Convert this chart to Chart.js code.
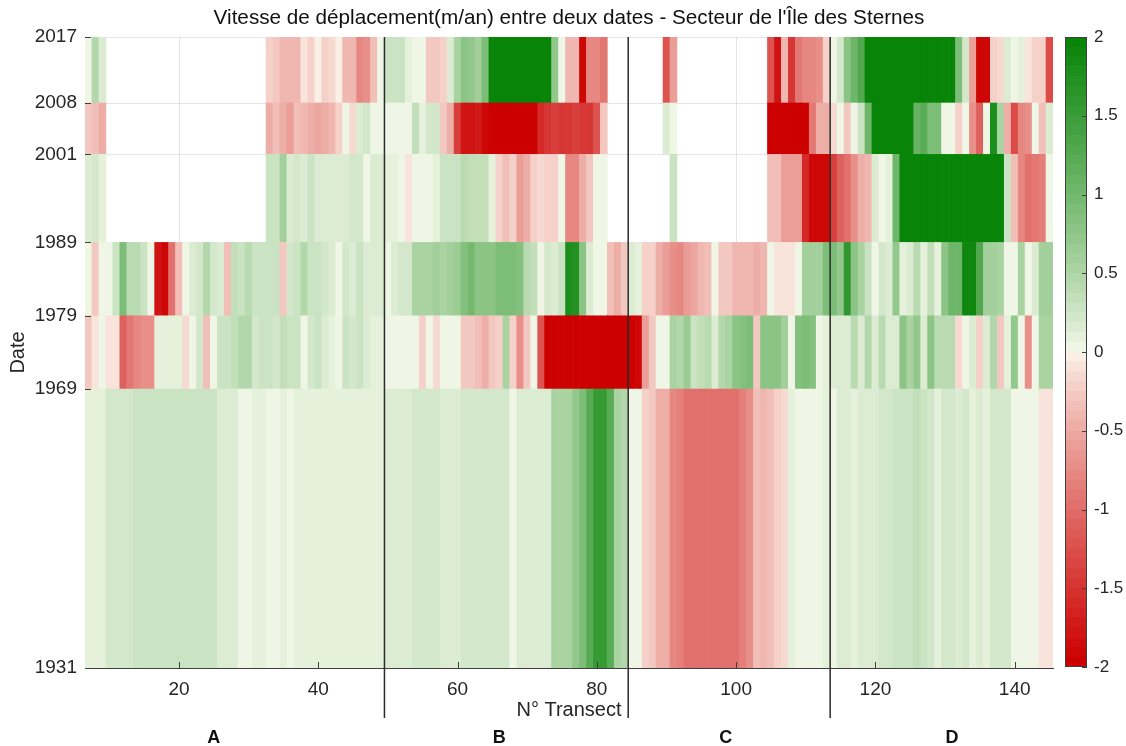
<!DOCTYPE html>
<html>
<head>
<meta charset="utf-8">
<script src="https://cdn.jsdelivr.net/npm/chart.js@4.4.1/dist/chart.umd.min.js"></script>
<style>
  html, body { margin: 0; padding: 0; background: #fff; }
  #wrap { position: relative; width: 1126px; height: 746px; }
  #main { position: absolute; left: 0; top: 0; }
  #cbar { position: absolute; left: 1053px; top: 0; }
</style>
</head>
<body>
<div id="wrap">
  <canvas id="main" width="1126" height="746"></canvas>
  <canvas id="cbar" width="73" height="746"></canvas>
</div>
<script>
// Transects 7 a 145, une valeur par transect (null = pas de donnee)
const firstTransect = 7;
const dateBreaks = [1931, 1969, 1979, 1989, 2001, 2008, 2017];
const xTicks = [20, 40, 60, 80, 100, 120, 140];
const cbTicks = [-2, -1.5, -1, -0.5, 0, 0.5, 1, 1.5, 2];
const sectorNames = ['A', 'B', 'C', 'D'];
const sectorBounds = [49.5, 84.5, 113.5];
const sectorLabelAt = [25, 66, 98.5, 131];
const titleText = "Vitesse de déplacement(m/an) entre deux dates - Secteur de l'Île des Sternes";

// vitesse (m/an) par periode
const v2008_2017 = [
  0.05, 0.45, 0.15, null, null, null, null, null, null, null,
  null, null, null, null, null, null, null, null, null, null,
  null, null, null, null, null, null, -0.2, -0.3, -0.4, -0.4,
  -0.4, -0.1, -0.2, -0.05, -0.25, -0.15, -0.05, -0.4, -0.4, -0.8,
  -0.75, -0.35, 0.02, 0.25, 0.3, 0.3, 0.1, 0.05, 0.02, -0.3,
  -0.3, -0.2, 0.15, 0.5, 0.8, 0.7, 0.6, 0.9, 2, 2,
  2, 2, 2, 2, 2, 2, 2, 0.7, 0.05, -0.4,
  -0.4, -1.9, -0.8, -0.8, -0.9, null, null, null, null, null,
  null, null, null, -1.2, -0.6, null, null, null, null, null,
  null, null, null, null, null, null, null, null, -1.2, -1.8,
  -0.4, -1.5, -0.9, -0.8, -0.8, -0.7, -0.2, 0.05, 0.2, 0.8,
  1.0, 1.3, 2, 2, 2, 2, 2, 2, 2, 2,
  2, 2, 2, 2, 2, 0.9, 0.2, -0.6, -1.9, -1.9,
  -0.25, -0.15, 0.15, 0.02, 0.1, -0.1, -0.2, -0.2, -1.3
];
const v2001_2008 = [
  -0.3, -0.35, -0.5, null, null, null, null, null, null, null,
  null, null, null, null, null, null, null, null, null, null,
  null, null, null, null, null, null, -0.5, -0.35, -0.45, -0.6,
  -0.35, -0.4, -0.5, -0.55, -0.45, -0.4, -0.2, 0.02, -0.15, 0.15,
  0.2, 0.03, 0.03, 0.02, 0.02, 0.05, 0.05, 0.35, 0.1, 0.2,
  0.2, -0.3, -0.5, -1.4, -1.8, -1.8, -1.7, -1.9, -2, -2,
  -2, -2, -2, -2, -2, -1.6, -1.5, -1.4, -1.5, -1.5,
  -1.4, -1.5, -1.5, -1.2, -0.3, null, null, null, null, null,
  null, null, null, 0.15, 0.03, null, null, null, null, null,
  null, null, null, null, null, null, null, null, -2, -2,
  -2, -2, -2, -2, -0.9, -0.5, -0.45, -0.15, 0.03, -0.3,
  0.02, 0.3, 1.0, 2, 2, 2, 2, 2, 2, 1.1,
  1.2, 0.9, 0.9, 0.05, 0.02, -0.2, 0.03, -0.7, -1.1, 0.02,
  1.8, 0.5, -0.5, -1.3, -0.8, -0.7, 0.02, -0.35, 0.15
];
const v1989_2001 = [
  0.15, 0.2, 0.1, null, null, null, null, null, null, null,
  null, null, null, null, null, null, null, null, null, null,
  null, null, null, null, null, null, 0.3, 0.3, 0.6, 0.15,
  0.2, 0.15, 0.25, 0.15, 0.18, 0.15, 0.15, 0.15, 0.2, 0.2,
  0.03, 0.15, 0.15, 0.1, 0.1, 0.05, -0.1, 0.02, 0.05, 0.05,
  0.1, 0.25, 0.25, 0.3, 0.4, 0.35, 0.35, 0.35, 0.1, -0.2,
  -0.35, -0.2, -0.6, -0.5, -0.2, -0.15, -0.25, -0.2, 0.02, -0.8,
  -0.8, -0.5, -0.3, 0.02, 0.05, null, null, null, null, null,
  null, null, null, null, 0.3, null, null, null, null, null,
  null, null, null, null, null, null, null, null, -0.35, -0.35,
  -0.6, -0.6, -0.6, -1.6, -1.9, -1.9, -1.9, -1.4, -1.1, -1.0,
  -0.7, -0.5, -0.4, 0.15, 0.02, 0.1, 1.0, 2, 2, 2,
  2, 2, 2, 2, 2, 2, 2, 2, 2, 2,
  2, 2, 0.3, -0.35, -0.8, -1.0, -0.9, -0.85, 0.02
];
const v1979_1989 = [
  0.02, -0.3, 0.05, 0.05, 0.3, 0.9, 0.4, 0.4, 0.3, 0.05,
  -1.8, -1.9, -1.0, -0.35, 0.05, 0.15, 0.2, 0.45, 0.2, 0.15,
  -0.35, 0.35, 0.3, 0.4, 0.3, 0.25, 0.3, 0.25, -0.3, 0.2,
  0.25, 0.45, 0.3, 0.3, 0.2, 0.15, 0.03, 0.2, 0.15, 0.25,
  0.15, 0.15, 0.15, 0.05, 0.15, 0.2, 0.2, 0.55, 0.55, 0.5,
  0.6, 0.55, 0.6, 0.65, 0.85, 0.95, 0.8, 0.8, 0.8, 0.9,
  0.9, 0.9, 0.85, 0.4, 0.35, 0.05, 0.2, 0.15, 0.3, 1.8,
  1.7, 0.8, 0.15, 0.03, 0.05, -0.35, -0.5, -0.3, 0.15, 0.1,
  -0.25, -0.25, -0.5, -0.6, -0.7, -0.8, -0.6, -0.55, -0.4, -0.35,
  0.02, -0.3, -0.3, -0.4, -0.4, -0.4, -0.45, -0.4, 0.02, -0.1,
  -0.1, -0.1, 0.02, 0.6, 0.6, 0.6, 0.9, 0.9, 0.7, 1.6,
  0.8, 0.5, 0.25, 0.03, 0.2, 0.15, 0.7, 0.1, 0.15, 0.4,
  0.1, 0.35, 0.1, 0.8, 1.0, 1.0, 1.9, 1.9, 1.3, 0.6,
  0.6, 0.55, 0.03, 0.05, 0.5, 0.03, 0.15, 0.6, 0.6
];
const v1969_1979 = [
  -0.3, -0.1, 0.03, -0.1, -0.1, -1.1, -0.9, -0.8, -0.75, -0.75,
  0.1, 0.1, 0.1, 0.12, -0.15, 0.05, 0.2, -0.35, 0.02, 0.3,
  0.3, 0.35, 0.45, 0.45, 0.2, 0.25, 0.3, 0.2, 0.35, 0.3,
  0.25, 0.05, 0.2, 0.25, 0.15, 0.1, 0.03, 0.25, 0.2, 0.25,
  0.15, 0.1, 0.1, 0.02, 0.02, 0.03, 0.03, 0.02, -0.2, 0.02,
  -0.15, 0.03, 0.02, 0.02, -0.3, -0.3, -0.35, -0.45, -0.3, -0.2,
  0.5, -0.2, -0.7, -0.3, 0.02, -1.2, -2, -2, -2, -2,
  -2, -2, -2, -2, -2, -2, -2, -2, -2, -1.9,
  -0.6, -0.3, 0.03, 0.03, 0.5, 0.45, 0.65, 0.3, 0.35, 0.4,
  0.15, 0.45, 0.5, 0.8, 0.85, 0.9, -0.3, 0.8, 0.75, 0.8,
  0.6, 0.05, 0.85, 0.9, 0.85, 0.05, 0.1, 0.15, 0.15, 0.15,
  0.4, 0.15, 0.45, 0.15, 0.4, 0.15, 0.15, 0.8, 0.55, 0.7,
  0.15, 0.8, 0.4, 0.4, 0.4, -0.15, 0.03, 0.15, -0.25, 0.15,
  0.45, -0.3, 0.1, 0.7, 0.02, -0.7, 0.02, 0.5, 0.5
];
const v1931_1969 = [
  0.1, 0.12, 0.12, 0.2, 0.2, 0.2, 0.2, 0.25, 0.25, 0.25,
  0.25, 0.25, 0.3, 0.3, 0.3, 0.28, 0.3, 0.25, 0.25, 0.15,
  0.15, 0.15, 0.03, 0.03, 0.1, 0.1, 0.02, 0.02, 0.1, 0.02,
  0.12, 0.12, 0.12, 0.12, 0.12, 0.12, 0.12, 0.12, 0.12, 0.12,
  0.12, 0.12, 0.12, 0.15, 0.15, 0.15, 0.15, 0.2, 0.2, 0.2,
  0.2, 0.15, 0.15, 0.15, 0.2, 0.2, 0.2, 0.2, 0.2, 0.2,
  0.2, 0.03, 0.15, 0.15, 0.15, 0.15, 0.15, 0.5, 0.5, 0.5,
  0.7, 0.9, 1.2, 1.5, 1.5, 1.2, 0.5, 0.45, 0.02, 0.03,
  -0.2, -0.3, -0.45, -0.45, -0.8, -0.85, -0.95, -0.95, -0.95, -0.95,
  -0.95, -0.95, -0.95, -0.95, -0.85, -0.75, -0.35, -0.4, -0.35, -0.25,
  -0.15, 0.1, 0.02, 0.02, 0.02, 0.03, 0.1, 0.05, 0.15, 0.15,
  0.1, 0.15, 0.15, 0.15, 0.2, 0.2, 0.25, 0.25, 0.25, 0.35,
  0.3, 0.2, 0.1, 0.2, 0.2, 0.15, 0.2, 0.12, 0.15, 0.12,
  0.2, 0.2, 0.2, 0.02, 0.03, 0.02, 0.02, -0.1, -0.1
];
const rows = [v1931_1969, v1969_1979, v1979_1989, v1989_2001, v2001_2008, v2008_2017];

// palette rouge - blanc - vert, 64 niveaux entre -2 et 2
const nLevels = 64, cMin = -2, cMax = 2;
const redEnd = [204, 0, 0], greenEnd = [8, 132, 8], whiteMid = [253, 252, 242];

function levelOf(v) {
  let k = Math.floor((v - cMin) / (cMax - cMin) * nLevels);
  return Math.max(0, Math.min(nLevels - 1, k));
}
function levelColor(k) {
  const half = nLevels / 2;
  const neg = k < half;
  let t = neg ? (half - k) / half : (k - half + 1) / half;
  t = Math.pow(t, 0.85);
  const end = neg ? redEnd : greenEnd;
  const c = whiteMid.map((w, i) => Math.round(w + (end[i] - w) * t));
  return 'rgb(' + c.join(',') + ')';
}
const colorFor = v => levelColor(levelOf(v));

const fontFamily = "'Liberation Sans', Arial, Helvetica, sans-serif";
Chart.defaults.font.family = fontFamily;
const axisGrey = '#262626';

const datasets = rows.map((vals, r) => {
  const pts = [];
  vals.forEach((v, i) => {
    if (v !== null) pts.push({ x: firstTransect + i, y: [dateBreaks[r], dateBreaks[r + 1]], v: v });
  });
  return {
    data: pts,
    backgroundColor: ctx => colorFor(ctx.raw.v),
    borderWidth: 0,
    barPercentage: 1,
    categoryPercentage: 1,
    grouped: false
  };
});

const overlay = {
  id: 'overlay',
  afterDraw(chart) {
    const { ctx, chartArea: a, scales: { x, y } } = chart;
    ctx.save();
    // titre centre sur la zone du graphe
    ctx.fillStyle = '#111';
    ctx.font = '20.7px ' + fontFamily;
    ctx.textAlign = 'center';
    ctx.textBaseline = 'middle';
    ctx.fillText(titleText, (a.left + a.right) / 2, 18);

    ctx.strokeStyle = '#404040';
    ctx.lineWidth = 1;
    ctx.beginPath();
    dateBreaks.forEach(v => {
      const py = Math.round(y.getPixelForValue(v)) + 0.5;
      ctx.moveTo(a.left, py); ctx.lineTo(a.left + 6, py);
    });
    xTicks.forEach(v => {
      const px = Math.round(x.getPixelForValue(v)) + 0.5;
      ctx.moveTo(px, a.bottom); ctx.lineTo(px, a.bottom - 6);
    });
    ctx.stroke();

    // limites des secteurs
    ctx.strokeStyle = '#2b2b2b';
    ctx.lineWidth = 1.5;
    ctx.beginPath();
    sectorBounds.forEach(b => {
      const px = x.getPixelForValue(b);
      ctx.moveTo(px, a.top); ctx.lineTo(px, a.bottom + 50);
    });
    ctx.stroke();

    ctx.fillStyle = '#111';
    ctx.font = 'bold 18px ' + fontFamily;
    sectorNames.forEach((s, i) => ctx.fillText(s, x.getPixelForValue(sectorLabelAt[i]), a.bottom + 70));
    ctx.restore();
  }
};

new Chart(document.getElementById('main'), {
  type: 'bar',
  data: { datasets: datasets },
  plugins: [overlay],
  options: {
    responsive: false,
    animation: false,
    events: [],
    layout: { padding: { left: 0, right: 73, top: 37, bottom: 24 } },
    plugins: {
      legend: { display: false },
      tooltip: { enabled: false },
      title: { display: false }
    },
    scales: {
      x: {
        type: 'linear',
        min: 6.5,
        max: 145.5,
        offset: false,
        z: 1,
        afterBuildTicks: s => { s.ticks = xTicks.map(v => ({ value: v })); },
        afterFit: s => { s.height = 54; },
        grid: { color: 'rgba(0,0,0,0.1)', drawTicks: false, offset: false },
        border: { display: true, color: '#404040' },
        ticks: { padding: 10, color: axisGrey, font: { size: 19 }, maxRotation: 0, autoSkip: false, callback: v => String(v) },
        title: { display: true, text: 'N° Transect', color: axisGrey, font: { size: 20 }, padding: { top: 0, bottom: 0 } }
      },
      y: {
        type: 'linear',
        min: 1931,
        max: 2017,
        z: 1,
        afterBuildTicks: s => { s.ticks = dateBreaks.map(v => ({ value: v })); },
        afterFit: s => { s.width = 85; },
        grid: { color: 'rgba(0,0,0,0.1)', drawTicks: false },
        border: { display: true, color: '#404040' },
        ticks: { padding: 8, color: axisGrey, font: { size: 19 }, callback: v => String(v) },
        title: { display: true, text: 'Date', color: axisGrey, font: { size: 20 }, padding: { top: 6, bottom: 0 } }
      }
    }
  }
});

// barre de couleur
const cbDatasets = [];
for (let k = 0; k < nLevels; k++) {
  const lo = cMin + k * (cMax - cMin) / nLevels;
  const hi = lo + (cMax - cMin) / nLevels;
  cbDatasets.push({
    data: [[lo, hi]],
    backgroundColor: levelColor(k),
    borderWidth: 0,
    barPercentage: 1,
    categoryPercentage: 1,
    grouped: false
  });
}

const cbFrame = {
  id: 'cbFrame',
  afterDraw(chart) {
    const { ctx, chartArea: a, scales: { y } } = chart;
    ctx.save();
    ctx.strokeStyle = '#404040';
    ctx.lineWidth = 1;
    ctx.strokeRect(Math.round(a.left) + 0.5, Math.round(a.top) + 0.5, Math.round(a.right - a.left) - 1, Math.round(a.bottom - a.top) - 1);
    ctx.beginPath();
    cbTicks.forEach(v => {
      const py = Math.round(y.getPixelForValue(v)) + 0.5;
      ctx.moveTo(a.right - 5, py); ctx.lineTo(a.right, py);
    });
    ctx.stroke();
    ctx.restore();
  }
};

new Chart(document.getElementById('cbar'), {
  type: 'bar',
  data: { labels: [''], datasets: cbDatasets },
  plugins: [cbFrame],
  options: {
    responsive: false,
    animation: false,
    events: [],
    layout: { padding: { left: 12, right: 0, top: 37, bottom: 79 } },
    plugins: { legend: { display: false }, tooltip: { enabled: false } },
    scales: {
      x: { display: false },
      y: {
        position: 'right',
        min: cMin,
        max: cMax,
        afterBuildTicks: s => { s.ticks = cbTicks.map(v => ({ value: v })); },
        afterFit: s => { s.width = 39; },
        grid: { display: false, drawTicks: false },
        border: { display: false },
        ticks: { padding: 7, color: axisGrey, font: { size: 17 }, callback: v => String(v) }
      }
    }
  }
});
</script>
</body>
</html>
